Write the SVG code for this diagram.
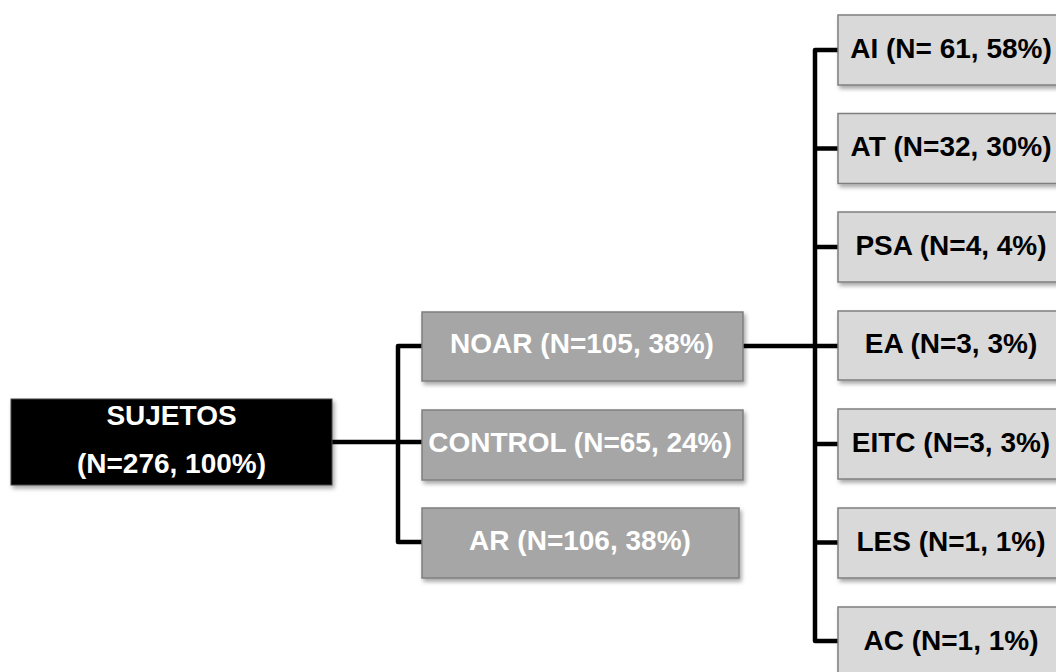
<svg xmlns="http://www.w3.org/2000/svg" width="1056" height="672" viewBox="0 0 1056 672">
<defs>
<filter id="sh" x="-10%" y="-10%" width="130%" height="140%">
<feDropShadow dx="2" dy="3" stdDeviation="2" flood-color="#000" flood-opacity="0.35"/>
</filter>
<style>
.t{font-family:"Liberation Sans",Arial,sans-serif;font-weight:bold;font-size:28px;text-anchor:middle}
.root rect{fill:#000;stroke:#404040;stroke-width:1}
.mid rect{fill:#a6a6a6;stroke:#7f7f7f;stroke-width:1.5}
.leaf rect{fill:#d9d9d9;stroke:#7f7f7f;stroke-width:1.5}
.root text,.mid text{fill:#fff}
.leaf text{fill:#000}
.c{fill:none;stroke:#000;stroke-width:4.5;stroke-linejoin:round}
</style>
</defs>
<rect width="1056" height="672" fill="#fff"/>
<g id="connectors">
<path class="c" d="M332 442H398"/>
<path class="c" d="M422 346H398V542H422"/>
<path class="c" d="M398 442H422"/>
<path class="c" d="M743 346H838"/>
<path class="c" d="M838 50H815V641H838"/>
<path class="c" d="M815 148.5H838M815 247H838M815 444H838M815 542.5H838"/>
</g>
<g id="sujetos" class="root">
<rect x="11" y="399" width="321" height="86" filter="url(#sh)"/>
<text class="t" x="171.5" y="425">SUJETOS</text>
<text class="t" x="171.5" y="473">(N=276, 100%)</text>
</g>
<g id="noar" class="mid">
<rect x="422" y="312" width="321" height="69" filter="url(#sh)"/>
<text class="t" x="582" y="353">NOAR (N=105, 38%)</text>
</g>
<g id="control" class="mid">
<rect x="422" y="410" width="321" height="70" filter="url(#sh)"/>
<text class="t" x="580" y="452">CONTROL (N=65, 24%)</text>
</g>
<g id="ar" class="mid">
<rect x="422" y="508" width="317" height="70" filter="url(#sh)"/>
<text class="t" x="580" y="550">AR (N=106, 38%)</text>
</g>
<g id="ai" class="leaf">
<rect x="838" y="15" width="226" height="70" filter="url(#sh)"/>
<text class="t" x="951" y="58">AI (N= 61, 58%)</text>
</g>
<g id="at" class="leaf">
<rect x="838" y="113.5" width="226" height="70" filter="url(#sh)"/>
<text class="t" x="951" y="156">AT (N=32, 30%)</text>
</g>
<g id="psa" class="leaf">
<rect x="838" y="212" width="226" height="70" filter="url(#sh)"/>
<text class="t" x="951" y="255">PSA (N=4, 4%)</text>
</g>
<g id="ea" class="leaf">
<rect x="838" y="311" width="226" height="69" filter="url(#sh)"/>
<text class="t" x="951" y="353">EA (N=3, 3%)</text>
</g>
<g id="eitc" class="leaf">
<rect x="838" y="409" width="226" height="70" filter="url(#sh)"/>
<text class="t" x="951" y="452">EITC (N=3, 3%)</text>
</g>
<g id="les" class="leaf">
<rect x="838" y="508" width="226" height="70" filter="url(#sh)"/>
<text class="t" x="951" y="551">LES (N=1, 1%)</text>
</g>
<g id="ac" class="leaf">
<rect x="838" y="607" width="226" height="70" filter="url(#sh)"/>
<text class="t" x="951" y="650">AC (N=1, 1%)</text>
</g>
</svg>
